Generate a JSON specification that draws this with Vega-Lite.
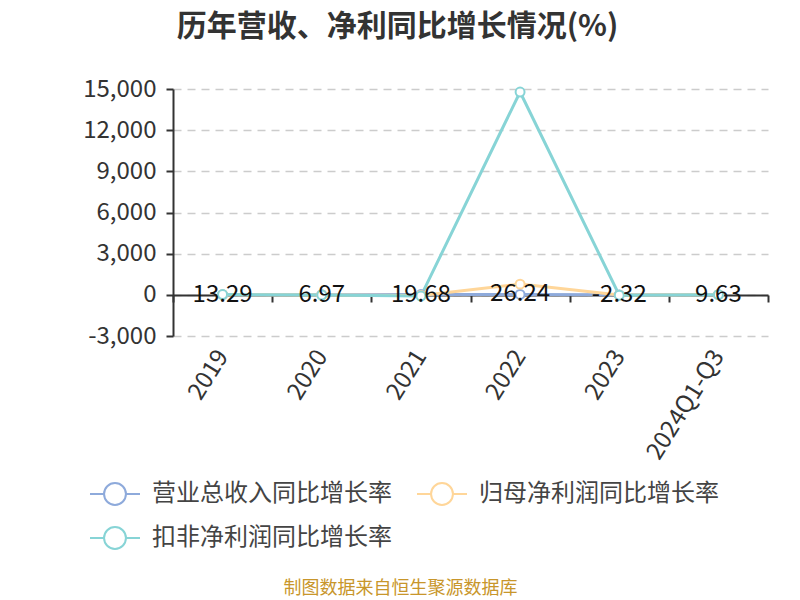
{
  "$schema": "https://vega.github.io/schema/vega-lite/v6.json",
  "autosize": "none",
  "width": 595,
  "height": 247,
  "padding": {"left": 173, "top": 89, "right": 32, "bottom": 264},
  "background": "white",
  "config": {
    "font": "Noto Sans CJK SC",
    "view": {"stroke": null}
  },
  "title": {
    "text": "历年营收、净利同比增长情况(%)",
    "fontSize": 30,
    "fontWeight": "bold",
    "color": "#333333",
    "anchor": "middle",
    "frame": "group",
    "dx": -73,
    "offset": 35
  },
  "data": {
    "values": [
      {"year": "2019", "series": "营业总收入同比增长率", "value": 13.29},
      {"year": "2020", "series": "营业总收入同比增长率", "value": 6.97},
      {"year": "2021", "series": "营业总收入同比增长率", "value": 19.68},
      {"year": "2022", "series": "营业总收入同比增长率", "value": 26.24},
      {"year": "2023", "series": "营业总收入同比增长率", "value": -2.32},
      {"year": "2024Q1-Q3", "series": "营业总收入同比增长率", "value": 9.63},
      {"year": "2019", "series": "归母净利润同比增长率", "value": 15},
      {"year": "2020", "series": "归母净利润同比增长率", "value": -10},
      {"year": "2021", "series": "归母净利润同比增长率", "value": -40},
      {"year": "2022", "series": "归母净利润同比增长率", "value": 780},
      {"year": "2023", "series": "归母净利润同比增长率", "value": -20},
      {"year": "2024Q1-Q3", "series": "归母净利润同比增长率", "value": 10},
      {"year": "2019", "series": "扣非净利润同比增长率", "value": 20},
      {"year": "2020", "series": "扣非净利润同比增长率", "value": -15},
      {"year": "2021", "series": "扣非净利润同比增长率", "value": -90},
      {"year": "2022", "series": "扣非净利润同比增长率", "value": 14780},
      {"year": "2023", "series": "扣非净利润同比增长率", "value": -25},
      {"year": "2024Q1-Q3", "series": "扣非净利润同比增长率", "value": 15}
    ]
  },
  "encoding": {
    "x": {
      "field": "year",
      "type": "ordinal",
      "sort": null,
      "scale": {"type": "band", "paddingInner": 0, "paddingOuter": 0},
      "axis": {
        "title": "制图数据来自恒生聚源数据库",
        "titleFontSize": 18,
        "titleFontWeight": "normal",
        "titleColor": "#C8962B",
        "titleX": 227,
        "titleY": 293,
        "titleAlign": "center",
        "titleBaseline": "middle",
        "offset": -41,
        "domainColor": "#333333",
        "domainWidth": 2,
        "tickColor": "#333333",
        "tickWidth": 2,
        "tickSize": 7,
        "tickBand": "extent",
        "labelAngle": -58,
        "labelAlign": "right",
        "labelBaseline": "middle",
        "labelFontSize": 24,
        "labelColor": "#333333",
        "labelPadding": 50,
        "grid": false
      }
    },
    "y": {
      "field": "value",
      "type": "quantitative",
      "scale": {"domain": [-3000, 15000], "nice": false, "zero": false},
      "axis": {
        "title": null,
        "values": [-3000, 0, 3000, 6000, 9000, 12000, 15000],
        "labelExpr": "replace(format(datum.value, ',.0f'), '\u2212', '-')",
        "domainColor": "#333333",
        "domainWidth": 2,
        "tickColor": "#333333",
        "tickWidth": 2,
        "tickSize": 7,
        "labelPadding": 10,
        "labelFontSize": 24,
        "labelColor": "#333333",
        "grid": true,
        "gridColor": "#CCCCCC",
        "gridWidth": 1.5,
        "gridDash": [8, 6]
      }
    },
    "color": {
      "field": "series",
      "type": "nominal",
      "sort": ["营业总收入同比增长率", "归母净利润同比增长率", "扣非净利润同比增长率"],
      "scale": {
        "domain": ["营业总收入同比增长率", "归母净利润同比增长率", "扣非净利润同比增长率"],
        "range": ["#8EAADB", "#FFD699", "#87D4D6"]
      },
      "legend": {
        "title": null,
        "orient": "none",
        "legendX": -75,
        "legendY": 388,
        "direction": "horizontal",
        "columns": 2,
        "columnPadding": 20,
        "rowPadding": 12,
        "symbolType": "M-1.6,0L-0.7,0M0.7,0L1.6,0M-0.7,0A0.7,0.7 0 1,1 0.7,0A0.7,0.7 0 1,1 -0.7,0",
        "symbolSize": 977,
        "symbolStrokeWidth": 2,
        "symbolFillColor": "white",
        "labelOffset": 20,
        "labelFontSize": 24,
        "labelColor": "#444444",
        "labelLimit": 400
      }
    }
  },
  "layer": [
    {
      "mark": {"type": "line", "strokeWidth": 3}
    },
    {
      "mark": {"type": "point", "filled": false, "fill": "white", "fillOpacity": 1, "opacity": 1, "size": 80, "strokeWidth": 2}
    },
    {
      "transform": [
        {"filter": "datum.series === '营业总收入同比增长率'"},
        {"calculate": "replace(format(datum.value, '.2f'), '\u2212', '-')", "as": "label"}
      ],
      "mark": {"type": "text", "fontSize": 24, "color": "#111111", "baseline": "middle", "align": "center"},
      "encoding": {
        "text": {"field": "label", "type": "nominal"},
        "color": {"value": "#111111"}
      }
    }
  ]
}
